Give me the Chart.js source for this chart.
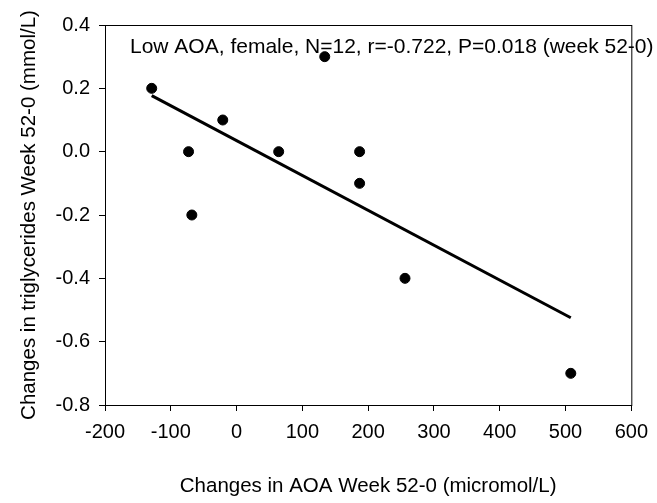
<!DOCTYPE html>
<html>
<head>
<meta charset="utf-8">
<script src="https://cdn.jsdelivr.net/npm/chart.js@4/dist/chart.umd.min.js"></script>
<style>
    body { margin: 0; background: #fff; }
    canvas { display: block; }
</style>
</head>
<body>
<canvas id="grafico" width="657" height="503"></canvas>
<script>
// Datos
const cambiosAOA = [-129, -73, -68, -21, 64, 134, 187, 187, 256, 508];
const cambiosTG = [0.2, 0.0, -0.2, 0.1, 0.0, 0.3, 0.0, -0.1, -0.4, -0.7];
const anotacion = 'Low AOA, female, N=12, r=-0.722, P=0.018 (week 52-0)';
const tituloX = 'Changes in AOA Week 52-0 (micromol/L)';
const tituloY = 'Changes in triglycerides Week 52-0 (mmol/L)';

const puntos = cambiosAOA.map((x, i) => ({ x: x, y: cambiosTG[i] }));

// Recta de regresion (minimos cuadrados)
const n = cambiosAOA.length;
const mediaX = cambiosAOA.reduce((s, v) => s + v, 0) / n;
const mediaY = cambiosTG.reduce((s, v) => s + v, 0) / n;
let sxy = 0, sxx = 0;
for (let i = 0; i < n; i++) {
    sxy += (cambiosAOA[i] - mediaX) * (cambiosTG[i] - mediaY);
    sxx += (cambiosAOA[i] - mediaX) ** 2;
}
const pendiente = sxy / sxx;
const xMin = Math.min(...cambiosAOA);
const xMax = Math.max(...cambiosAOA);
const recta = [xMin, xMax].map(x => ({ x: x, y: mediaY + pendiente * (x - mediaX) }));

const familia = '"Liberation Sans", Arial, sans-serif';
const fuenteTicks = { family: familia, size: 20 };
const fuenteTitulo = { family: familia, size: 20.5 };

const marco = {
    id: 'marco',
    beforeDatasetsDraw(chart) {
        const { ctx } = chart;
        ctx.save();
        ctx.font = '21px ' + familia;
        ctx.fillStyle = '#000';
        ctx.textBaseline = 'middle';
        ctx.fillText(anotacion, 130, 47);
        ctx.restore();
    },
    afterDraw(chart) {
        const { ctx, chartArea } = chart;
        ctx.save();
        ctx.strokeStyle = '#000';
        ctx.lineWidth = 1;
        ctx.strokeRect(chartArea.left + 0.5, chartArea.top + 0.5,
            chartArea.right - chartArea.left, chartArea.bottom - chartArea.top);
        ctx.restore();
    }
};

new Chart(document.getElementById('grafico'), {
    type: 'scatter',
    data: {
        datasets: [{
            data: puntos,
            backgroundColor: '#000',
            borderColor: '#000',
            pointRadius: 5,
            pointHoverRadius: 5
        }, {
            type: 'line',
            data: recta,
            borderColor: '#000',
            borderWidth: 3,
            pointRadius: 0,
            fill: false
        }]
    },
    options: {
        responsive: false,
        animation: false,
        layout: { padding: { top: 25, right: 24, left: 0, bottom: 0 } },
        plugins: {
            legend: { display: false },
            tooltip: { enabled: false }
        },
        scales: {
            x: {
                type: 'linear',
                min: -200,
                max: 600,
                afterFit: s => { s.height = 98; },
                ticks: { stepSize: 100, color: '#000', font: fuenteTicks, padding: 9, maxRotation: 0 },
                grid: { drawOnChartArea: false, drawTicks: true, tickLength: 6, color: '#000' },
                border: { display: true, color: '#000', width: 1 },
                title: { display: true, text: tituloX, color: '#000', font: fuenteTitulo, padding: { top: 0, bottom: 4 } }
            },
            y: {
                type: 'linear',
                min: -0.8,
                max: 0.4,
                afterFit: s => { s.width = 105; },
                ticks: { stepSize: 0.2, color: '#000', font: fuenteTicks, padding: 9, callback: v => v.toFixed(1) },
                grid: { drawOnChartArea: false, drawTicks: true, tickLength: 6, color: '#000' },
                border: { display: true, color: '#000', width: 1 },
                title: { display: true, text: tituloY, color: '#000', font: fuenteTitulo, padding: { top: 17, bottom: 0 } }
            }
        }
    },
    plugins: [marco]
});
</script>
</body>
</html>
